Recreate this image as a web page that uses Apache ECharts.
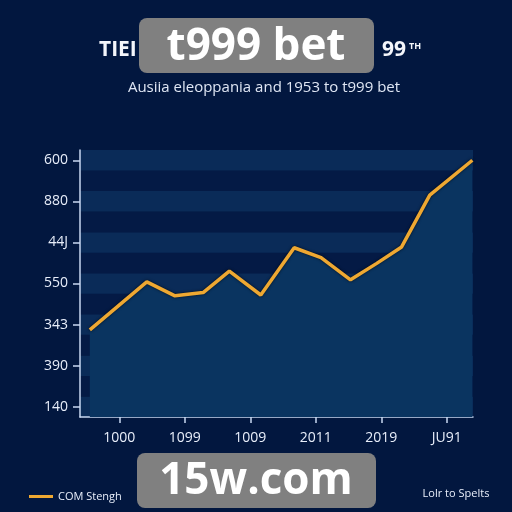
<!DOCTYPE html>
<html><head><meta charset="utf-8">
<script src="https://cdn.jsdelivr.net/npm/echarts@6/dist/echarts.min.js"></script>
<style>html,body{margin:0;padding:0;background:#02173f;}#c{width:512px;height:512px;}</style>
</head><body><div id="c"></div>
<script>
// tick labels
const yTickLabels = ['140', '390', '343', '550', '44J', '880', '600']; // bottom to top
const xTickLabels = ['1000', '1099', '1009', '2011', '2019', 'JU91'];
// series (x in tick-index units, y in tick-index units)
const seriesX = [-0.45, 0.42, 0.85, 1.28, 1.68, 2.16, 2.67, 3.08, 3.53, 3.93, 4.31, 4.74, 5.39];
const seriesY = [1.87, 3.04, 2.70, 2.78, 3.30, 2.72, 3.87, 3.63, 3.09, 3.49, 3.89, 5.15, 6.00];
const seriesName = 'COM Stengh';

const chart = echarts.init(document.getElementById('c'));
const axisCol = '#c9d9f2';
const txtCol = '#e8eefa';
const font = '"Open Sans", "Liberation Sans", sans-serif';
const yIdx = [0,1,2,3,4,5,6];
const xIdx = [0,1,2,3,4,5];
chart.setOption({
  backgroundColor: '#02173f',
  animation: false,
  grid: { left: 80, right: 39, top: 150, bottom: 95, containLabel: false },
  legend: {
    left: 24, top: 486, icon: 'rect', itemWidth: 24, itemHeight: 3, itemGap: 6,
    textStyle: { color: txtCol, fontSize: 11, fontFamily: font },
    data: [seriesName]
  },
  xAxis: {
    type: 'value', min: -0.6, max: 5.4,
    axisLine: { show: true, onZero: false, lineStyle: { color: axisCol, width: 1.5 } },
    axisTick: { show: true, customValues: xIdx, length: 6, lineStyle: { color: axisCol, width: 1.5 } },
    axisLabel: { customValues: xIdx, color: txtCol, fontSize: 14, fontFamily: font, margin: 14,
      formatter: v => xTickLabels[Math.round(v)] },
    splitLine: { show: false }
  },
  yAxis: [{
    type: 'value', min: -0.25, max: 6.25,
    axisLine: { show: true, onZero: false, lineStyle: { color: axisCol, width: 1.5 } },
    axisTick: { show: true, customValues: yIdx, length: 7, lineStyle: { color: axisCol, width: 1.5 } },
    axisLabel: { customValues: yIdx, color: txtCol, fontSize: 14, fontFamily: font, margin: 12,
      formatter: v => yTickLabels[Math.round(v)] },
    splitLine: { show: false }
  }, {
    type: 'value', min: 0, max: 6.5, interval: 0.5, position: 'right',
    axisLine: { show: false }, axisTick: { show: false }, axisLabel: { show: false },
    splitLine: { show: false },
    splitArea: { show: true, areaStyle: { color: ['#0a2b58', '#041a45'] } }
  }],
  series: [{
    name: seriesName, type: 'line', yAxisIndex: 0,
    data: seriesX.map((x, i) => [x, seriesY[i]]),
    symbol: 'none',
    lineStyle: { color: '#eea832', width: 3.5, shadowColor: 'rgba(0,0,0,0.7)', shadowBlur: 3 },
    itemStyle: { color: '#eea832' },
    areaStyle: { color: '#0a3460', opacity: 1, origin: 'start' },
    z: 3
  }],
  graphic: [
    { type: 'text', left: 99, top: 40, style: { text: 'TIEI', fill: '#f4f6fb', font: 'bold 21px ' + font } },
    { type: 'text', left: 382, top: 40, style: { text: '99', fill: '#f4f6fb', font: 'bold 21px ' + font } },
    { type: 'text', left: 409, top: 42, style: { text: 'TH', fill: '#f4f6fb', font: 'bold 9px ' + font } },
    { type: 'rect', shape: { x: 139, y: 18, width: 235, height: 55, r: 8 }, style: { fill: '#808080' }, z: 10 },
    { type: 'text', z: 11, x: 256, y: 47, style: { text: 't999 bet', fill: '#ffffff', font: 'bold 44px ' + font, align: 'center', verticalAlign: 'middle' } },
    { type: 'text', x: 264, y: 88, style: { text: 'Ausiia eleoppania and 1953 to t999 bet', fill: '#dfe6f4', font: '15px ' + font, align: 'center', verticalAlign: 'middle' } },
    { type: 'rect', shape: { x: 137, y: 453, width: 239, height: 55, r: 8 }, style: { fill: '#808080' }, z: 10 },
    { type: 'text', z: 11, x: 256, y: 481, style: { text: '15w.com', fill: '#ffffff', font: 'bold 44px ' + font, align: 'center', verticalAlign: 'middle' } },
    { type: 'text', x: 456, y: 494, style: { text: 'Lolr to Spelts', fill: txtCol, font: '11px ' + font, align: 'center', verticalAlign: 'middle' } }
  ]
});
</script></body></html>
